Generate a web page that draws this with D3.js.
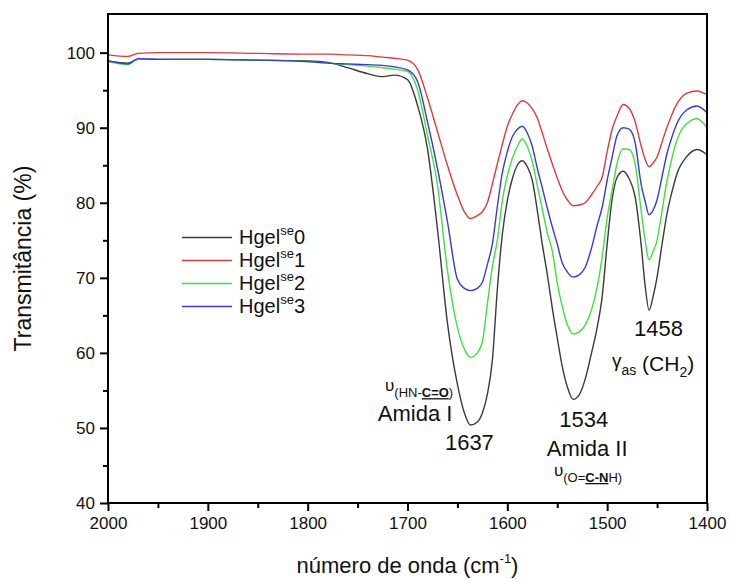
<!DOCTYPE html>
<html lang="pt">
<head>
<meta charset="utf-8">
<title>FTIR Hgel</title>
<script src="https://cdn.jsdelivr.net/npm/d3@7"></script>
<style>
  body { margin: 0; background: #fff; }
  text { font-family: "Liberation Sans", Arial, sans-serif; fill: #111; }
</style>
</head>
<body>
<script>
// wavenumbers (cm-1) shared by all four spectra
var wavenumbers = [2000, 1980, 1970, 1950, 1900, 1850, 1800, 1780, 1760, 1740, 1725, 1713, 1700, 1690, 1680, 1670, 1660, 1650, 1643, 1637,
  1630, 1625, 1620, 1615, 1610, 1605, 1600, 1595, 1590, 1585, 1580, 1575, 1570, 1565, 1560, 1555, 1550, 1545, 1540, 1534,
  1528, 1522, 1516, 1510, 1505, 1500, 1495, 1490, 1484, 1478, 1472, 1466, 1462, 1458, 1454, 1450, 1445, 1440, 1435, 1430,
  1420, 1410, 1400];

var hgel0 = [98.9, 98.6, 99.1, 99.1, 99.1, 99.0, 98.9, 98.7, 98.0, 97.2, 96.8, 97.0, 96.4, 93.0, 87.2, 76.5, 64.0, 55.8, 52.0, 50.4,
  50.8, 52.0, 54.5, 59.0, 68.5, 75.8, 80.3, 83.2, 85.0, 85.6, 84.8, 83.0, 79.0, 74.5, 70.5, 66.0, 62.0, 58.2, 55.5, 53.8,
  54.4, 56.5, 59.8, 63.4, 67.5, 74.5, 80.5, 83.4, 84.2, 83.2, 80.8, 74.5, 69.0, 65.7, 67.5, 70.1, 74.5, 78.6, 81.5, 83.9,
  86.2, 87.1, 86.4];

var hgel1 = [99.7, 99.5, 99.9, 100.0, 100.0, 99.9, 99.8, 99.8, 99.7, 99.6, 99.4, 99.25, 99.0, 97.8, 94.0, 89.5, 85.0, 81.0, 78.8, 77.9,
  78.3, 78.8, 80.0, 82.5, 85.2, 87.8, 90.2, 91.8, 93.0, 93.6, 93.3, 92.5, 91.3, 89.3, 87.2, 85.2, 83.3, 81.6, 80.4, 79.6,
  79.7, 80.0, 81.0, 82.2, 83.4, 86.8, 89.8, 91.6, 93.1, 92.6, 90.8, 87.6, 85.8, 84.8, 85.3, 86.1, 88.1, 90.1, 91.8, 93.2,
  94.6, 94.9, 94.4];

var hgel2 = [98.8, 98.4, 99.1, 99.1, 99.1, 99.0, 98.8, 98.6, 98.4, 98.2, 98.0, 97.8, 97.5, 95.1, 89.0, 82.4, 71.0, 63.4, 60.5, 59.4,
  60.0, 61.5, 66.5, 71.5, 75.0, 80.3, 83.6, 85.9, 87.5, 88.5, 87.5, 85.5, 82.3, 79.2, 76.0, 73.6, 69.3, 66.2, 63.8, 62.5,
  62.8, 63.7, 65.6, 68.8, 72.8, 78.0, 81.7, 85.3, 87.2, 87.1, 85.2, 79.0, 75.0, 72.4, 73.5, 75.0, 79.0, 83.0, 86.0, 88.4,
  90.6, 91.2, 90.0];

var hgel3 = [98.9, 98.5, 99.2, 99.1, 99.1, 99.0, 98.8, 98.6, 98.5, 98.4, 98.3, 98.1, 97.7, 96.2, 90.8, 84.6, 77.5, 69.8, 68.6, 68.3,
  68.6, 69.4, 71.8, 74.5, 79.5, 84.0, 86.8, 88.8, 89.8, 90.2, 89.3, 87.5, 84.6, 82.0, 79.3, 76.8, 74.5, 72.0, 70.8, 70.1,
  70.4, 71.4, 73.8, 77.0, 79.4, 83.0, 86.1, 89.0, 90.0, 89.8, 88.0, 82.5, 80.2, 78.4, 79.0, 80.4, 83.5, 86.6, 88.8, 90.6,
  92.4, 92.9, 92.0];

var seriesNames = ["0", "1", "2", "3"];
var seriesColors = ["#3a3a3a", "#e23a3a", "#3ee23e", "#3a3ad8"];

var xTicks = [2000, 1900, 1800, 1700, 1600, 1500, 1400];
var xMinorTicks = [1950, 1850, 1750, 1650, 1550, 1450];
var yTicks = [40, 50, 60, 70, 80, 90, 100];
var yMinorTicks = [45, 55, 65, 75, 85, 95];

drawChart();

function drawChart() {
  var w = 730, h = 579;
  var pLeft = 108, pRight = 707, pTop = 14, pBottom = 503;

  var svg = d3.select("body").append("svg").attr("width", w).attr("height", h);

  var x = d3.scaleLinear().domain([2000, 1400]).range([pLeft, pRight]);
  var y = d3.scaleLinear().domain([40, 105.15]).range([pBottom, pTop]);

  // curves
  var allSeries = [hgel0, hgel1, hgel2, hgel3];
  var line = d3.line()
    .x(function(d, i) { return x(wavenumbers[i]); })
    .y(function(d) { return y(d); })
    .curve(d3.curveMonotoneX);

  svg.selectAll("path.spec")
    .data(allSeries)
    .enter()
    .append("path")
    .attr("class", "spec")
    .attr("d", line)
    .attr("fill", "none")
    .attr("stroke", function(d, i) { return seriesColors[i]; })
    .attr("stroke-width", 1.4);

  // frame
  svg.append("rect")
    .attr("x", pLeft).attr("y", pTop)
    .attr("width", pRight - pLeft).attr("height", pBottom - pTop)
    .attr("fill", "none").attr("stroke", "#000").attr("stroke-width", 2);

  // axes
  svg.append("g").attr("transform", "translate(0," + pBottom + ")")
    .call(d3.axisBottom(x).tickValues(xTicks).tickSize(8).tickPadding(6).tickFormat(d3.format("d")));
  svg.append("g").attr("transform", "translate(0," + pBottom + ")")
    .call(d3.axisBottom(x).tickValues(xMinorTicks).tickSize(5).tickFormat(""));
  svg.append("g").attr("transform", "translate(" + pLeft + ",0)")
    .call(d3.axisLeft(y).tickValues(yTicks).tickSize(8).tickPadding(5).tickFormat(d3.format("d")));
  svg.append("g").attr("transform", "translate(" + pLeft + ",0)")
    .call(d3.axisLeft(y).tickValues(yMinorTicks).tickSize(5).tickFormat(""));

  svg.selectAll(".domain").remove();
  svg.selectAll(".tick line").attr("stroke", "#000").attr("stroke-width", 2);
  svg.selectAll(".tick text")
    .attr("font-family", "Liberation Sans, Arial, sans-serif")
    .attr("font-size", 17).attr("fill", "#111");

  // axis titles
  var xt = svg.append("text")
    .attr("x", (pLeft + pRight) / 2).attr("y", 573)
    .attr("text-anchor", "middle").attr("font-size", 22);
  xt.append("tspan").text("número de onda (cm");
  xt.append("tspan").text("-1").attr("font-size", 13).attr("dy", -10);
  xt.append("tspan").text(")").attr("dy", 10);

  svg.append("text")
    .attr("transform", "translate(31," + ((pTop + pBottom) / 2) + ") rotate(-90)")
    .attr("text-anchor", "middle").attr("font-size", 23)
    .text("Transmitância (%)");

  // legend
  var legend = svg.append("g");
  seriesNames.forEach(function(name, i) {
    var ly = 237.5 + i * 23;
    legend.append("line")
      .attr("x1", 182).attr("x2", 232).attr("y1", ly).attr("y2", ly)
      .attr("stroke", seriesColors[i]).attr("stroke-width", 1.4);
    var t = legend.append("text").attr("x", 239).attr("y", ly + 6).attr("font-size", 20);
    t.append("tspan").text("Hgel");
    t.append("tspan").text("se").attr("font-size", 13).attr("dy", -9);
    t.append("tspan").text(name).attr("dy", 9);
  });

  // annotations
  function label(wn, val, str, size, anchor) {
    return svg.append("text")
      .attr("x", x(wn)).attr("y", y(val))
      .attr("font-size", size).attr("text-anchor", anchor || "start")
      .text(str);
  }
  label(1638, 47.0, "1637", 22, "middle");
  label(1655, 50.9, "Amida I", 22, "end");
  label(1523.5, 50.07, "1534", 22, "middle");
  label(1520, 46.25, "Amida II", 22, "middle");
  label(1448.5, 62.2, "1458", 22, "middle");

  function vib(wn, val, before, bold, after) {
    var t = svg.append("text").attr("x", x(wn)).attr("y", y(val)).attr("font-size", 13);
    t.append("tspan").text("υ").attr("font-size", 17).attr("dy", -6);
    t.append("tspan").text(before).attr("dy", 6);
    t.append("tspan").text(bold).attr("font-weight", "bold").attr("text-decoration", "underline");
    t.append("tspan").text(after);
  }
  vib(1722.5, 54.1, "(HN-", "C=O", ")");
  vib(1553.3, 42.8, "(O=", "C-N", "H)");

  var g = svg.append("text").attr("x", x(1495.2)).attr("y", y(57.55)).attr("font-size", 21);
  g.append("tspan").text("γ").attr("font-size", 19).attr("dy", -4);
  g.append("tspan").text("as").attr("font-size", 14).attr("dy", 8);
  g.append("tspan").text(" (CH").attr("dy", -4);
  g.append("tspan").text("2").attr("font-size", 14).attr("dy", 6);
  g.append("tspan").text(")").attr("dy", -6);
}
</script>
</body>
</html>
